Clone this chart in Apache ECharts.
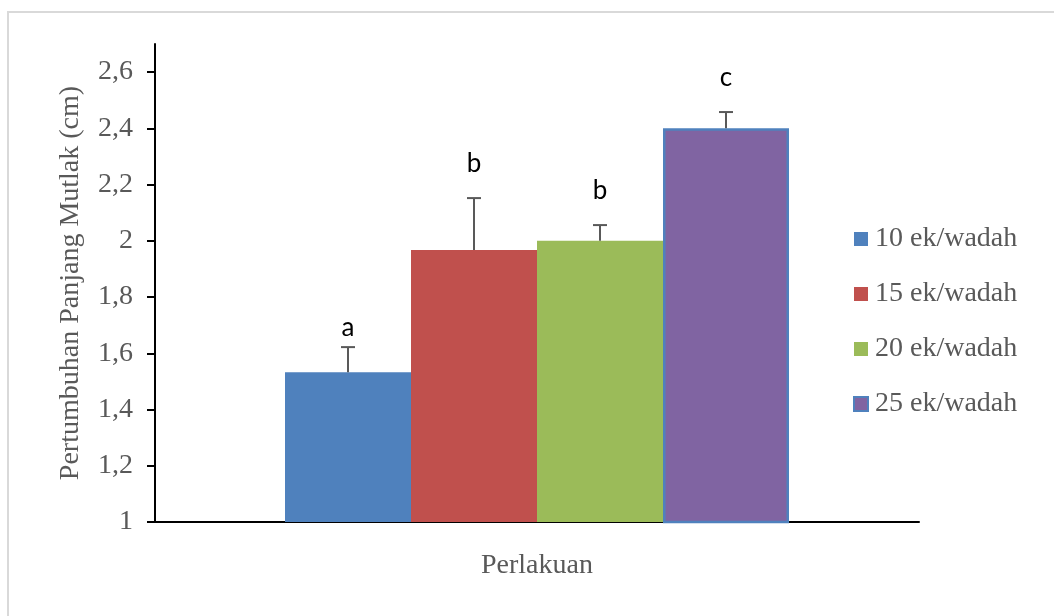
<!DOCTYPE html>
<html><head><meta charset="utf-8">
<script src="https://cdn.jsdelivr.net/npm/echarts@6/dist/echarts.min.js"></script>
<style>html,body{margin:0;padding:0;background:#fff}#c{width:1054px;height:616px}</style>
</head><body><div id="c"></div>
<script>
const seriesNames = ['10 ek/wadah', '15 ek/wadah', '20 ek/wadah', '25 ek/wadah'];
const means = [1.533, 1.967, 2.0, 2.40];
const errTops = [1.622, 2.152, 2.056, 2.458];
const letters = ['a', 'b', 'b', 'c'];
const letterLevels = [1.693, 2.276, 2.18, 2.582];
const yTickValues = [1, 1.2, 1.4, 1.6, 1.8, 2, 2.2, 2.4, 2.6];
const colors = ['#4F81BD', '#C0504D', '#9BBB59', '#8064A2'];

const BAR_W = 126;
const serif = '"Liberation Serif", "Times New Roman", serif';

const chart = echarts.init(document.getElementById('c'), null, {renderer: 'canvas'});

const barSeries = seriesNames.map((n, i) => ({
  name: n,
  type: 'bar',
  data: [means[i]],
  barWidth: BAR_W,
  barGap: '0%',
  itemStyle: i === 3 ? {color: colors[i], borderColor: '#4F81BD', borderWidth: 2.5} : {color: colors[i]},
  emphasis: {disabled: true}
}));

const errData = means.map((m, i) => [0, m, errTops[i], i, letterLevels[i]]);

const option = {
  animation: false,
  backgroundColor: '#fff',
  graphic: [{
    type: 'rect', silent: true,
    shape: {x: 8, y: 12, width: 1200, height: 800},
    style: {fill: 'none', stroke: '#d9d9d9', lineWidth: 2}
  }],
  grid: {left: 155, right: 135, top: 44, bottom: 94},
  legend: {
    orient: 'vertical',
    left: 853, top: 225,
    padding: 0,
    data: seriesNames,
    icon: 'rect',
    itemWidth: 14, itemHeight: 14,
    itemGap: 27,
    textStyle: {fontFamily: serif, fontSize: 28, color: '#595959', padding: [0, 0, 0, 2]}
  },
  xAxis: {
    type: 'category',
    data: [''],
    axisLine: {lineStyle: {color: '#000', width: 2}},
    axisTick: {show: false},
    axisLabel: {show: false},
    name: 'Perlakuan',
    nameLocation: 'middle',
    nameGap: 30,
    nameTextStyle: {fontFamily: serif, fontSize: 28, color: '#595959'}
  },
  yAxis: {
    type: 'value',
    min: 1, max: 2.7, interval: 0.2,
    splitLine: {show: false},
    axisLine: {show: true, lineStyle: {color: '#000', width: 2}},
    axisTick: {show: true, length: 8, customValues: yTickValues, lineStyle: {color: '#000', width: 2}},
    axisLabel: {
      customValues: yTickValues,
      margin: 22,
      fontFamily: serif, fontSize: 28, color: '#595959',
      formatter: v => String(Math.round(v * 10) / 10).replace('.', ',')
    },
    name: 'Pertumbuhan Panjang Mutlak (cm)',
    nameLocation: 'middle',
    nameGap: 70,
    nameTextStyle: {fontFamily: serif, fontSize: 28, color: '#595959'}
  },
  series: barSeries.concat([{
    type: 'custom',
    name: 'err',
    z: 10,
    silent: true,
    data: errData,
    renderItem: function (params, api) {
      const idx = api.value(3);
      const base = api.coord([0, api.value(1)]);
      const top = api.coord([0, api.value(2)]);
      const lab = api.coord([0, api.value(4)]);
      const x = base[0] + (idx - 1.5) * BAR_W;
      const style = {stroke: '#595959', lineWidth: 2};
      return {
        type: 'group',
        children: [
          {type: 'line', shape: {x1: x, y1: base[1], x2: x, y2: top[1]}, style: style},
          {type: 'line', shape: {x1: x - 7, y1: top[1], x2: x + 7, y2: top[1]}, style: style},
          {type: 'text', style: {text: letters[idx], x: x, y: lab[1], align: 'center', verticalAlign: 'middle',
            font: '26px Lato, "Liberation Sans", sans-serif', fill: '#000'}}
        ]
      };
    }
  }])
};
chart.setOption(option);
</script>
</body></html>
